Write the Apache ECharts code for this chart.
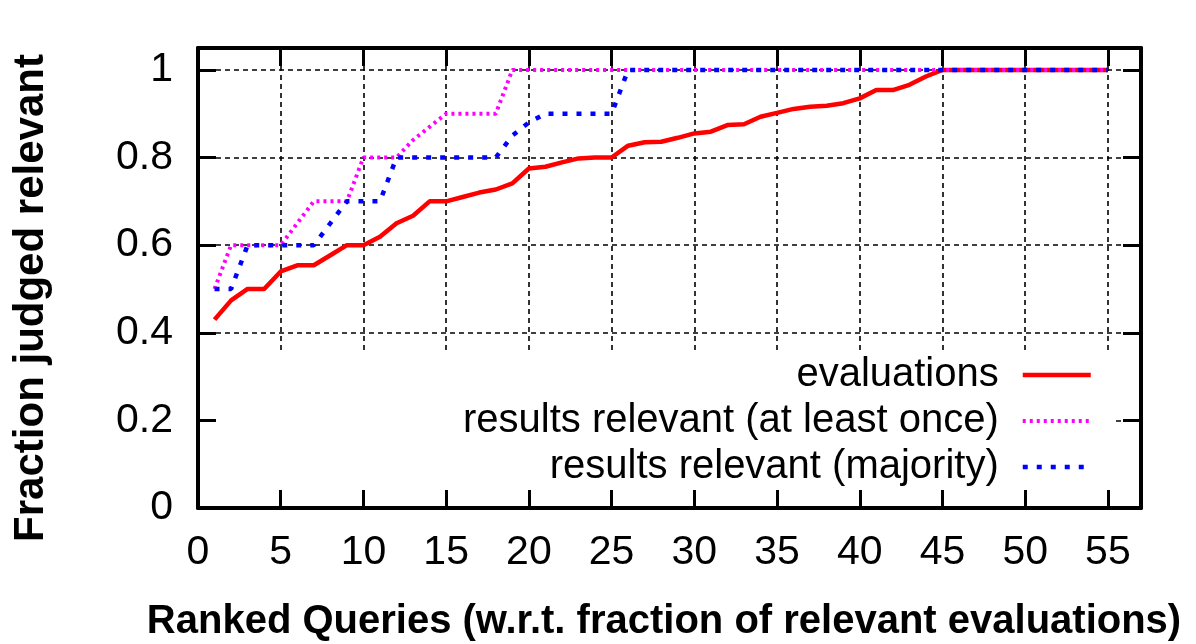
<!DOCTYPE html>
<html>
<head>
<meta charset="utf-8">
<script src="https://cdn.jsdelivr.net/npm/echarts@6/dist/echarts.min.js"></script>
<style>
  html, body { margin: 0; padding: 0; background: #fff; }
  #chart { width: 1196px; height: 644px; }
</style>
</head>
<body>
<div id="chart"></div>
<script>
// query rank on the x axis
var ranks = [1, 2, 3, 4, 5, 6, 7, 8, 9, 10, 11, 12, 13, 14, 15, 16, 17, 18, 19, 20,
  21, 22, 23, 24, 25, 26, 27, 28, 29, 30, 31, 32, 33, 34, 35, 36, 37, 38, 39, 40,
  41, 42, 43, 44, 45, 46, 47, 48, 49, 50, 51, 52, 53, 54, 55];

// evaluations
var evaluations = [0.43, 0.474, 0.50, 0.50, 0.54, 0.554, 0.554, 0.577, 0.60, 0.60,
  0.619, 0.65, 0.667, 0.70, 0.70, 0.71, 0.72, 0.727, 0.741, 0.775,
  0.779, 0.789, 0.798, 0.80, 0.80, 0.827, 0.835, 0.836, 0.845, 0.855,
  0.859, 0.874, 0.876, 0.893, 0.902, 0.911, 0.916, 0.918, 0.924, 0.935,
  0.954, 0.954, 0.966, 0.985, 1, 1, 1, 1, 1, 1, 1, 1, 1, 1, 1];

// results relevant (at least once)
var atLeastOnce = [0.5, 0.6, 0.6, 0.6, 0.6, 0.65, 0.7, 0.7, 0.7, 0.8,
  0.8, 0.8, 0.84, 0.87, 0.9, 0.9, 0.9, 0.9, 1, 1,
  1, 1, 1, 1, 1, 1, 1, 1, 1, 1, 1, 1, 1, 1, 1, 1, 1, 1, 1, 1,
  1, 1, 1, 1, 1, 1, 1, 1, 1, 1, 1, 1, 1, 1, 1];

// results relevant (majority)
var majority = [0.5, 0.5, 0.6, 0.6, 0.6, 0.6, 0.6, 0.65, 0.7, 0.7,
  0.7, 0.8, 0.8, 0.8, 0.8, 0.8, 0.8, 0.8, 0.85, 0.88,
  0.9, 0.9, 0.9, 0.9, 0.9, 1, 1, 1, 1, 1, 1, 1, 1, 1, 1, 1, 1, 1, 1, 1,
  1, 1, 1, 1, 1, 1, 1, 1, 1, 1, 1, 1, 1, 1, 1];

var seriesNames = ['evaluations', 'results relevant (at least once)', 'results relevant (majority)'];

var pairs = function (xs, ys) {
  var out = [];
  for (var i = 0; i < xs.length; i++) {
    out.push([xs[i], ys[i]]);
  }
  return out;
};

var font = '"Liberation Sans", Arial, sans-serif';
var border = { show: true, onZero: false, lineStyle: { color: '#000', width: 4 } };
var tick = { show: true, inside: true, length: 18, lineStyle: { color: '#000', width: 3 } };
var grid = { show: true, lineStyle: { color: '#000', width: 1.6, type: [5, 4] } };

var myChart = echarts.init(document.getElementById('chart'));

var option = {
  animation: false,
  backgroundColor: '#fff',
  grid: { left: 198, right: 55, top: 48, bottom: 136 },
  legend: {
    orient: 'vertical',
    right: 98,
    top: 350,
    align: 'right',
    itemWidth: 68,
    itemHeight: 20,
    itemGap: 6,
    itemStyle: { opacity: 0 },
    lineStyle: { width: 'inherit', type: 'inherit' },
    textStyle: { fontSize: 40, fontFamily: font, color: '#000', padding: [0, 19, 0, 0] },
    data: seriesNames
  },
  // bottom/left carry labels and ticks on top; top/right carry the dashed grid underneath
  xAxis: [
    {
      type: 'value', min: 0, max: 57, interval: 5, position: 'bottom', z: 3,
      axisLine: border, axisTick: tick, splitLine: { show: false },
      axisLabel: {
        margin: 24, fontSize: 41, fontFamily: font, color: '#000',
        formatter: function (v) { return v % 5 === 0 ? String(v) : ''; }
      }
    },
    {
      type: 'value', min: 0, max: 57, interval: 5, position: 'top', z: 0,
      axisLine: border, axisTick: tick, splitLine: grid, axisLabel: { show: false }
    }
  ],
  yAxis: [
    {
      type: 'value', min: 0, max: 1.05, interval: 0.2, position: 'left', z: 3,
      axisLine: border, axisTick: tick, splitLine: { show: false },
      axisLabel: {
        margin: 25, fontSize: 41, fontFamily: font, color: '#000',
        formatter: function (v) { return v > 1.001 ? '' : String(Math.round(v * 10) / 10); }
      }
    },
    {
      type: 'value', min: 0, max: 1.05, interval: 0.2, position: 'right', z: 0,
      axisLine: border, axisTick: tick, splitLine: grid, axisLabel: { show: false }
    }
  ],
  graphic: [
    {
      // opaque key box hiding the grid behind the legend
      type: 'rect', z: 1,
      shape: { x: 200, y: 350, width: 912, height: 156 },
      style: { fill: '#fff' }
    },
    {
      type: 'text', x: 31, y: 298, rotation: Math.PI / 2, z: 5,
      style: {
        text: 'Fraction judged relevant', x: 0, y: 0, align: 'center', verticalAlign: 'middle',
        font: 'bold 42px ' + font, fill: '#000'
      }
    },
    {
      type: 'text', x: 664, y: 622, z: 5,
      style: {
        text: 'Ranked Queries (w.r.t. fraction of relevant evaluations)', x: 0, y: 0,
        align: 'center', verticalAlign: 'middle',
        font: 'bold 40px ' + font, fill: '#000'
      }
    }
  ],
  series: [
    {
      name: seriesNames[0], type: 'line', symbol: 'none',
      data: pairs(ranks, evaluations),
      lineStyle: { color: '#ff0000', width: 4.5, type: 'solid' },
      itemStyle: { color: '#ff0000' }
    },
    {
      name: seriesNames[1], type: 'line', symbol: 'none',
      data: pairs(ranks, atLeastOnce),
      lineStyle: { color: '#ff00ff', width: 4, type: [3, 4] },
      itemStyle: { color: '#ff00ff' }
    },
    {
      name: seriesNames[2], type: 'line', symbol: 'none',
      data: pairs(ranks, majority),
      lineStyle: { color: '#0000ff', width: 4.5, type: [5, 9] },
      itemStyle: { color: '#0000ff' }
    }
  ]
};

myChart.setOption(option);
</script>
</body>
</html>
